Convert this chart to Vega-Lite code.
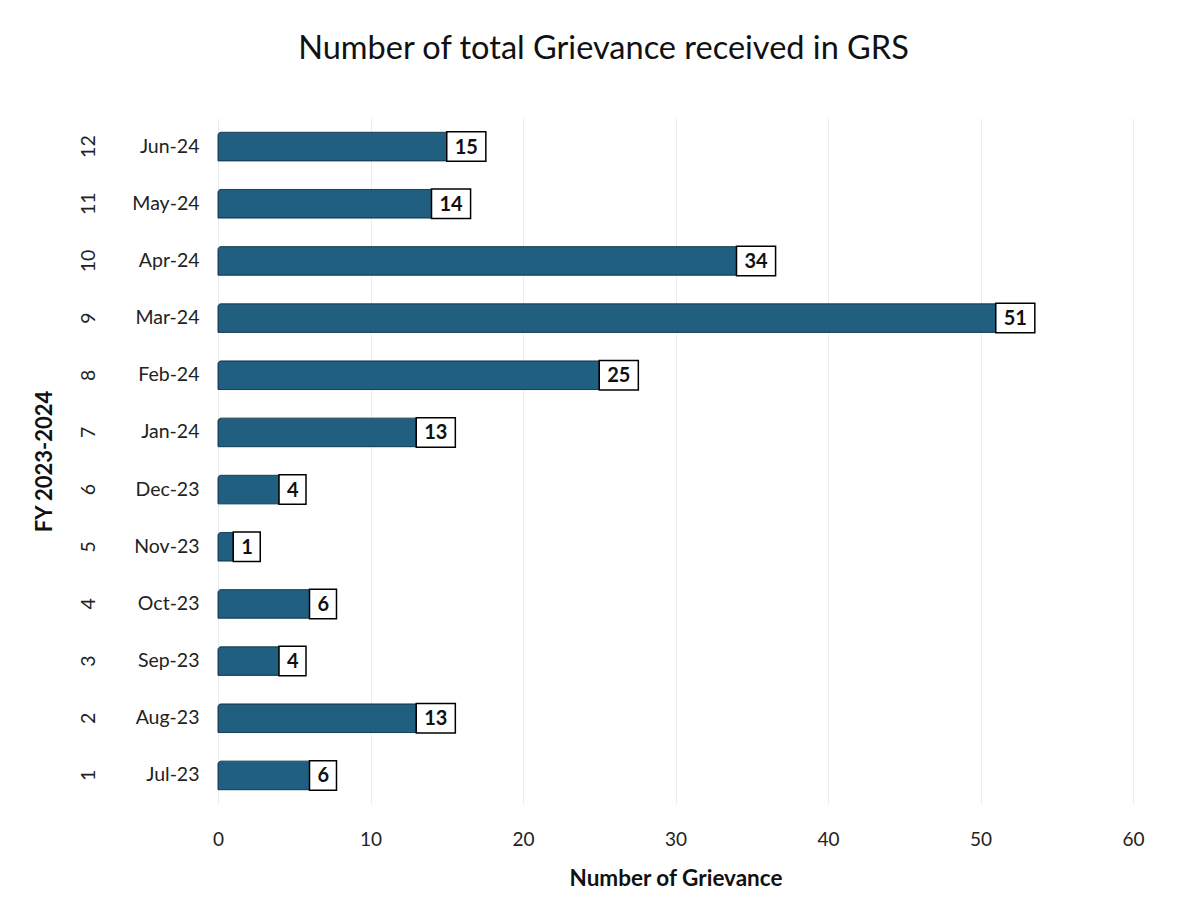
{
  "$schema": "https://vega.github.io/schema/vega-lite/v6.json",
  "autosize": "none",
  "width": 915,
  "height": 686,
  "padding": {"left": 218, "top": 118, "right": 70, "bottom": 118},
  "background": "white",
  "config": {
    "font": "Lato",
    "view": {"stroke": null},
    "axis": {"labelFont": "Lato", "titleFont": "Lato", "labelColor": "#222222", "titleColor": "#111111"}
  },
  "title": {
    "text": "Number of total Grievance received in GRS",
    "fontSize": 32.5,
    "fontWeight": "normal",
    "color": "#111111",
    "anchor": "middle",
    "offset": 53,
    "dx": -72
  },
  "data": {
    "values": [
      {"num": 1, "month": "Jul-23", "value": 6},
      {"num": 2, "month": "Aug-23", "value": 13},
      {"num": 3, "month": "Sep-23", "value": 4},
      {"num": 4, "month": "Oct-23", "value": 6},
      {"num": 5, "month": "Nov-23", "value": 1},
      {"num": 6, "month": "Dec-23", "value": 4},
      {"num": 7, "month": "Jan-24", "value": 13},
      {"num": 8, "month": "Feb-24", "value": 25},
      {"num": 9, "month": "Mar-24", "value": 51},
      {"num": 10, "month": "Apr-24", "value": 34},
      {"num": 11, "month": "May-24", "value": 14},
      {"num": 12, "month": "Jun-24", "value": 15}
    ]
  },
  "encoding": {
    "x": {
      "field": "value",
      "type": "quantitative",
      "scale": {"domain": [0, 60], "nice": false},
      "axis": {
        "values": [0, 10, 20, 30, 40, 50, 60],
        "title": "Number of Grievance",
        "titleFontSize": 22.5,
        "titleFontWeight": "bold",
        "titlePadding": 18,
        "labelFontSize": 19,
        "labelPadding": 26,
        "labelFlush": false,
        "domain": false,
        "ticks": false,
        "grid": true,
        "gridColor": "#ececec",
        "gridWidth": 1
      }
    }
  },
  "layer": [
    {
      "encoding": {
        "y": {
          "field": "month",
          "type": "nominal",
          "sort": {"field": "num", "order": "descending"},
          "scale": {"type": "band", "paddingInner": 0.5, "paddingOuter": 0.25},
          "axis": {
            "orient": "left",
            "title": null,
            "labelFontSize": 19.5,
            "labelPadding": 19,
            "domain": false,
            "ticks": false,
            "grid": false
          }
        }
      },
      "layer": [
        {
          "mark": {"type": "bar", "color": "#215f80", "stroke": "#173f56", "strokeWidth": 1, "cornerRadiusTopLeft": 3}
        },
        {
          "mark": {"type": "point", "filled": true, "fill": "white", "stroke": "black", "strokeWidth": 1.5, "opacity": 1, "size": 870},
          "encoding": {
            "shape": {
              "condition": {"test": "datum.value >= 10", "value": "M0,-1H2.65V1H0Z"},
              "value": "M0,-1H1.83V1H0Z"
            }
          }
        },
        {
          "mark": {"type": "text", "align": "left", "baseline": "middle", "dx": 8, "dy": 1, "fontSize": 20, "fontWeight": "bold", "color": "#111111"},
          "encoding": {"text": {"field": "value", "type": "quantitative"}}
        }
      ]
    },
    {
      "mark": {"type": "point", "opacity": 0},
      "encoding": {
        "y": {
          "field": "num",
          "type": "ordinal",
          "sort": "descending",
          "scale": {"type": "band", "paddingInner": 0.5, "paddingOuter": 0.25},
          "axis": {
            "orient": "left",
            "offset": 101,
            "title": "FY 2023-2024",
            "titleFontSize": 22,
            "titleFontWeight": "bold",
            "titlePadding": 22,
            "labelAngle": -90,
            "labelFontSize": 19.5,
            "labelPadding": 19,
            "domain": false,
            "ticks": false,
            "grid": false
          }
        }
      }
    }
  ],
  "resolve": {"scale": {"y": "independent"}, "axis": {"y": "independent"}}
}
